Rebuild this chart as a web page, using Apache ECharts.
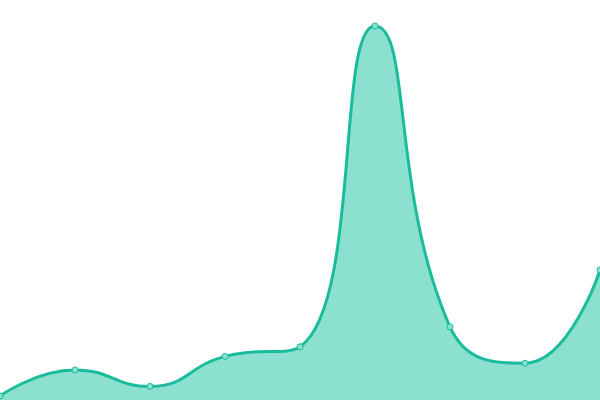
<!DOCTYPE html>
<html><head><meta charset="utf-8">
<script src="https://cdn.jsdelivr.net/npm/echarts@6/dist/echarts.min.js"></script>
<style>html,body{margin:0;padding:0;background:#fff}#c{width:600px;height:400px}</style>
</head><body><div id="c"></div>
<script>
const categories = ['A','B','C','D','E','F','G','H','I'];
const values = [10, 75, 34, 109, 133, 935, 183, 92, 325];
const yMax = 1000;
const chart = echarts.init(document.getElementById('c'));
chart.setOption({
  animation: false,
  grid: {left: 0, right: 0, top: 0, bottom: 0},
  xAxis: {type: 'category', data: categories, boundaryGap: false, show: false},
  yAxis: {type: 'value', min: 0, max: yMax, show: false},
  series: [{
    type: 'line',
    data: values,
    smooth: 0.5,
    symbol: 'circle',
    symbolSize: 6,
    lineStyle: {color: '#1abc9c', width: 3},
    itemStyle: {color: '#8be0cf', borderColor: '#1abc9c', borderWidth: 1},
    areaStyle: {color: '#8be0cf', opacity: 1}
  }]
});
</script></body></html>
